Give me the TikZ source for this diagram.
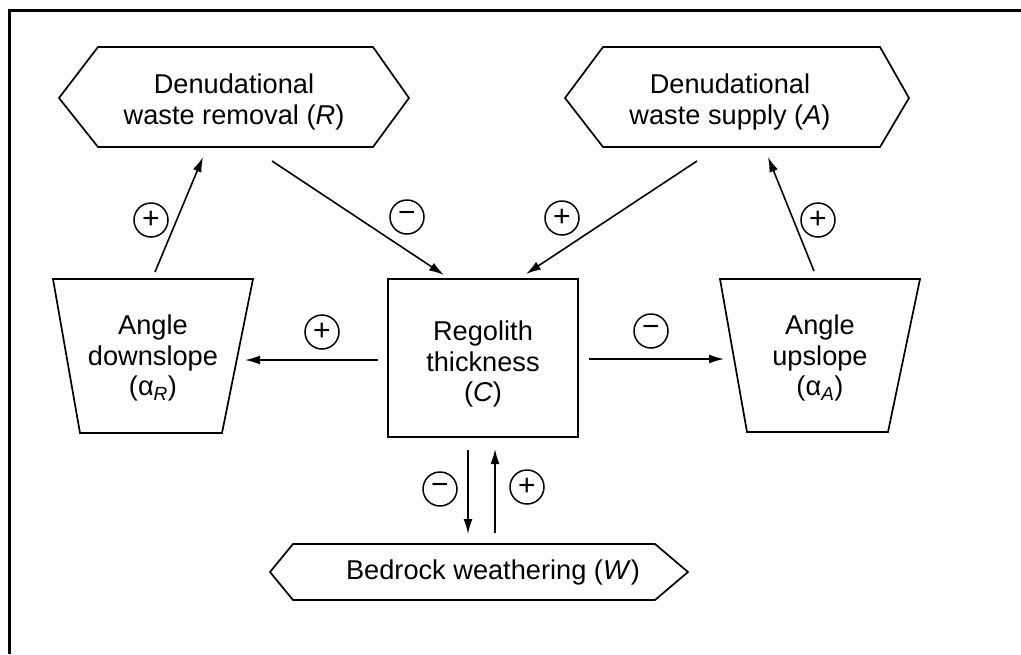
\documentclass[tikz,border=0pt]{standalone}
\usepackage{fontspec}
\setmainfont{Liberation Sans}
\usetikzlibrary{arrows.meta}
\newcommand{\sgn}[1]{\raisebox{-2.5pt}{#1}}
\begin{document}
\begin{tikzpicture}[x=1pt,y=-1pt,
  outline/.style={draw, line width=1.7pt, line join=miter},
  lbl/.style={align=center, font=\fontsize{27.2}{30.5}\selectfont, inner sep=0pt},
  sign/.style={circle, draw, line width=1.5pt, minimum size=34pt, inner sep=0pt, font=\fontsize{30}{30}\selectfont},
  conn/.style={line width=1.6pt, -{Latex[length=15pt,width=9pt]}}]
\useasboundingbox (0,0) rectangle (1021,654);
\fill[white] (0,0) rectangle (1021,654);
\draw[line width=3pt] (9,654) -- (9,10) -- (1021,10);

% shapes
\draw[outline] (59,98) -- (98,47) -- (373,47) -- (409,98) -- (373,147) -- (98,147) -- cycle;
\node[lbl] (R) at (234,102) {Denudational\\waste removal (\textit{R})};

\draw[outline] (565,98) -- (603,47) -- (880,47) -- (909,98) -- (880,147) -- (603,147) -- cycle;
\node[lbl] (A) at (730,102) {Denudational\\waste supply (\textit{A})};

\draw[outline] (53,279) -- (253,279) -- (222,433) -- (80,433) -- cycle;
\node[lbl] (aR) at (153,358) {Angle\\downslope\\(α\textsubscript{\textit{R}})};

\draw[outline] (388,279) rectangle (578,437);
\node[lbl] (C) at (483,364) {Regolith\\thickness\\(\textit{C})};

\draw[outline] (720,279) -- (920,279) -- (888,432) -- (747,432) -- cycle;
\node[lbl] (aA) at (820,358) {Angle\\upslope\\(α\textsubscript{\textit{A}})};

\draw[outline] (270,572) -- (293,544) -- (655,544) -- (688,572) -- (655,600) -- (293,600) -- cycle;
\node[lbl] (W) at (493,572) {Bedrock weathering (\textit{W})};

% connector end points
\coordinate (aRtop) at (155,272);
\coordinate (Rbotl) at (203,157);
\coordinate (Rbotr) at (272,161);
\coordinate (Ctopl) at (444,275);
\coordinate (Abotl) at (697,161);
\coordinate (Ctopr) at (526,274);
\coordinate (aAtop) at (814,271);
\coordinate (Abotr) at (768,157);
\coordinate (Cleft) at (378,360);
\coordinate (aRright) at (245,360);
\coordinate (Cright) at (589,359);
\coordinate (aAleft) at (724,359);
\coordinate (Cbotl) at (468,450);
\coordinate (Wtopl) at (468,534);
\coordinate (Wtopr) at (495,533);
\coordinate (Cbotr) at (495,449);

\draw[conn] (aRtop) -- (Rbotl);
\draw[conn] (Rbotr) -- (Ctopl);
\draw[conn] (Abotl) -- (Ctopr);
\draw[conn] (aAtop) -- (Abotr);
\draw[conn] (Cleft) -- (aRright);
\draw[conn] (Cright) -- (aAleft);
\draw[conn] (Cbotl) -- (Wtopl);
\draw[conn] (Wtopr) -- (Cbotr);

% signs
\node[sign] (s1) at (151,220) {\sgn{+}};
\node[sign] (s2) at (407,217) {\sgn{−}};
\node[sign] (s3) at (562,218) {\sgn{+}};
\node[sign] (s4) at (818,220) {\sgn{+}};
\node[sign] (s5) at (322,332) {\sgn{+}};
\node[sign] (s6) at (651,331) {\sgn{−}};
\node[sign] (s7) at (440,489) {\sgn{−}};
\node[sign] (s8) at (527,487) {\sgn{+}};
\end{tikzpicture}
\end{document}
